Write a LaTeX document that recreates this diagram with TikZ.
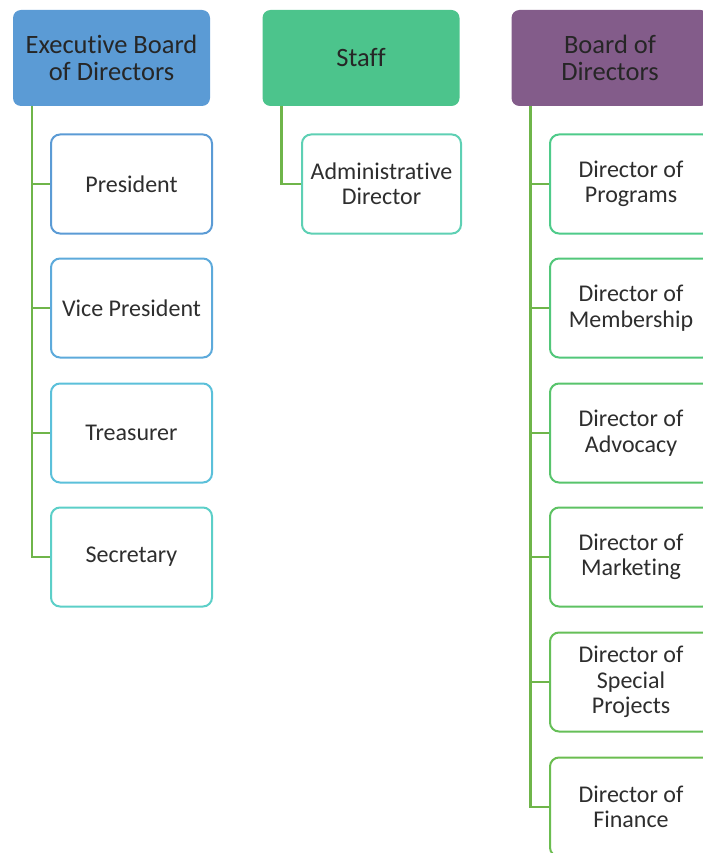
\documentclass[tikz,border=0pt]{standalone}
\usepackage{fontspec}
\setmainfont{Carlito}[Ligatures=NoCommon]
\begin{document}
\begin{tikzpicture}[x=1pt,y=-1pt,
  head/.style={rounded corners=8pt, minimum width=197pt, minimum height=96pt, align=center, inner sep=0pt, font=\fontsize{26.5}{27}\selectfont, text=black!85},
  kid/.style={rounded corners=9pt, draw, line width=2pt, fill=white, minimum width=161pt, minimum height=99pt, align=center, inner sep=0pt, font=\fontsize{24}{25.5}\selectfont, text=black!82},
  conn/.style={draw=connG, line width=2.4pt}]
\definecolor{hBlue}{HTML}{5B9BD5}
\definecolor{hGreen}{HTML}{4CC48C}
\definecolor{hPurple}{HTML}{835C8A}
\definecolor{connG}{HTML}{6FB54A}
\definecolor{cA}{HTML}{5B9BD5}
\definecolor{cB}{HTML}{5DAADB}
\definecolor{cC}{HTML}{5BC0DA}
\definecolor{cD}{HTML}{5CCFC8}
\definecolor{cE}{HTML}{5ED0B4}
\definecolor{cF}{HTML}{4FCB8A}
\definecolor{cG}{HTML}{52C77A}
\definecolor{cH}{HTML}{58C46C}
\definecolor{cI}{HTML}{5EC263}
\definecolor{cJ}{HTML}{66BF58}
\definecolor{cK}{HTML}{6BBD50}
\useasboundingbox (0,0) rectangle (703,853);
\begin{scope}
\clip (0,0) rectangle (703,853);
% headers
\node[head, fill=hBlue] (exec) at (111.5,58) {Executive Board\\of Directors};
\node[head, fill=hGreen] (staff) at (361,58) {Staff};
\node[head, fill=hPurple] (board) at (610,58) {Board of\\Directors};
\coordinate (et) at ([xshift=19pt]exec.south west);
\coordinate (st) at ([xshift=19pt]staff.south west);
\coordinate (bt) at ([xshift=19pt]board.south west);
% exec children
\node[kid, draw=cA] (pres) at (131.5,184) {President};
\node[kid, draw=cB] (vp) at (131.5,308) {Vice President};
\node[kid, draw=cC] (tre) at (131.5,433) {Treasurer};
\node[kid, draw=cD] (sec) at (131.5,557) {Secretary};
% staff child
\node[kid, draw=cE, minimum width=159pt] (adm) at (381.5,184) {Administrative\\Director};
% board children
\node[kid, draw=cF, minimum width=162pt] (prog) at (631,184) {Director of\\Programs};
\node[kid, draw=cG, minimum width=162pt] (memb) at (631,308) {Director of\\Membership};
\node[kid, draw=cH, minimum width=162pt] (adv) at (631,433) {Director of\\Advocacy};
\node[kid, draw=cI, minimum width=162pt] (mark) at (631,557) {Director of\\Marketing};
\node[kid, draw=cJ, minimum width=162pt] (spec) at (631,682) {Director of\\Special\\Projects};
\node[kid, draw=cK, minimum width=162pt] (fin) at (631,807) {Director of\\Finance};
% connectors
\draw[conn] (et) |- (pres.west);
\draw[conn] (et) |- (vp.west);
\draw[conn] (et) |- (tre.west);
\draw[conn] (et) |- (sec.west);
\draw[conn] (st) |- (adm.west);
\draw[conn] (bt) |- (prog.west);
\draw[conn] (bt) |- (memb.west);
\draw[conn] (bt) |- (adv.west);
\draw[conn] (bt) |- (mark.west);
\draw[conn] (bt) |- (spec.west);
\draw[conn] (bt) |- (fin.west);
\end{scope}
\end{tikzpicture}
\end{document}
